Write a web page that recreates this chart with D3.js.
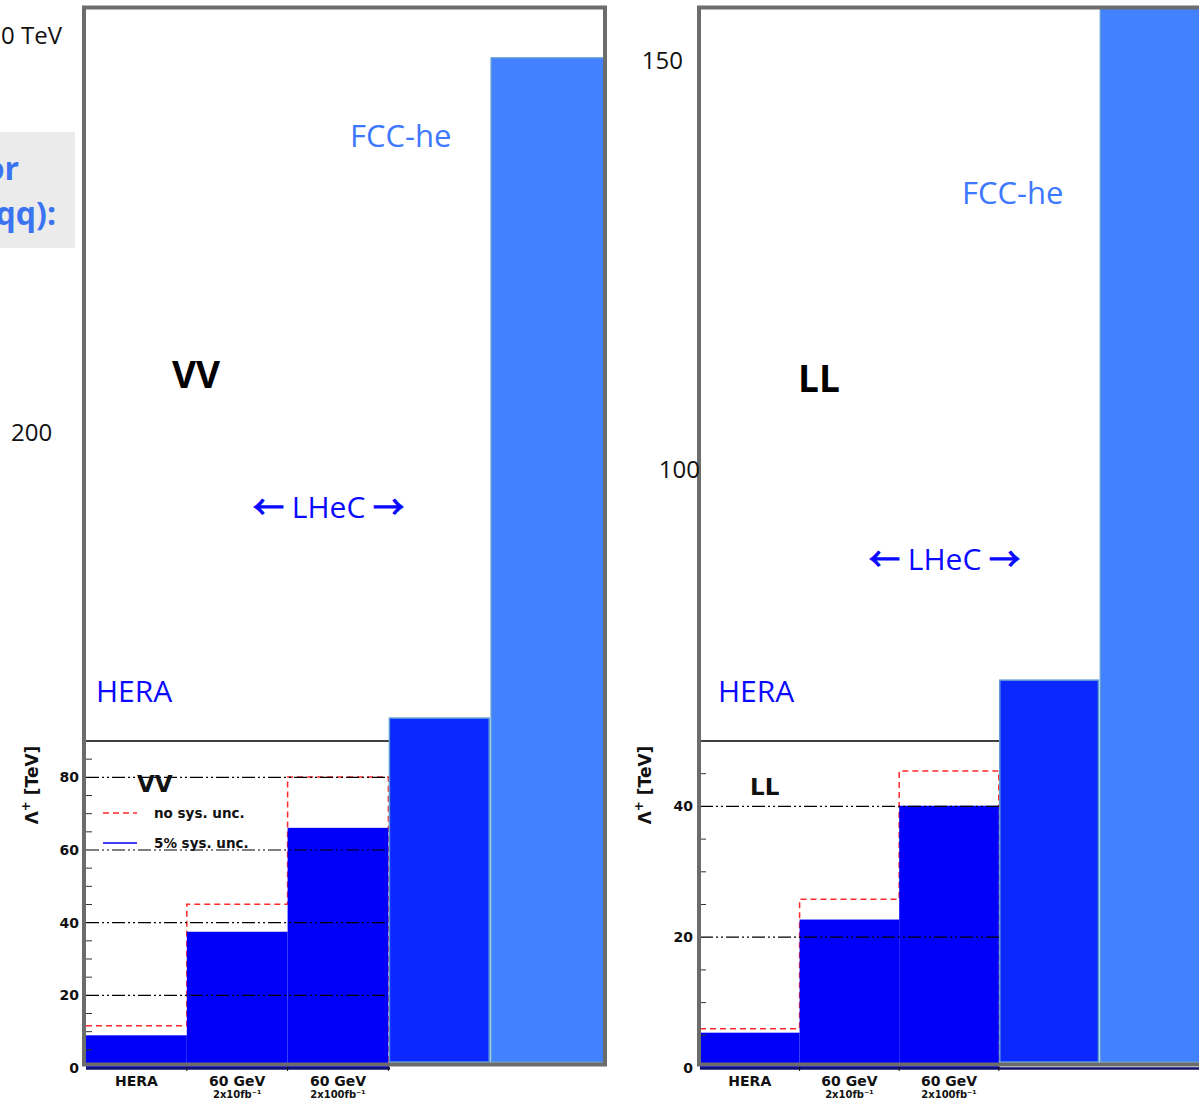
<!DOCTYPE html>
<html>
<head>
<meta charset="utf-8">
<script src="https://cdn.jsdelivr.net/npm/d3@7"></script>
<style>
  body { margin: 0; background: #fff; }
  svg { display: block; }
  .root { font-family: "DejaVu Sans", sans-serif; font-weight: bold; fill: #111; }
  .slide { font-family: "Open Sans", sans-serif; }
  .arrow { font-family: "Noto Sans CJK SC", "DejaVu Sans", sans-serif; stroke: #0a0aff; stroke-width: 1.2; }
</style>
</head>
<body>
<svg id="chart"></svg>
<script>
// ROOT histogram part (values in TeV)
var categories = ["HERA", "60 GeV", "60 GeV"];
var lumiLabels = ["", "2x10fb\u207B\u00B9", "2x100fb\u207B\u00B9"];
var vvSys = [9.0, 37.5, 66.1];
var vvNoSys = [11.6, 45.1, 80.1];
var llSys = [5.4, 22.7, 40.1];
var llNoSys = [6.0, 25.8, 45.4];
var vvTicks = [0, 20, 40, 60, 80];
var llTicks = [0, 20, 40];

// the big bars pasted over the plots (same scale, extended)
var extNames = ["LHeC", "FCC-he"];
var vvExt = [96.3, 278];
var llExt = [59.3, 170];

// hand placed slide labels
var leftSlideLabels = ["0 TeV", "200"];
var rightSlideLabels = ["150", "100"];

var W = 1199, H = 1101;
var svg = d3.select("#chart").attr("width", W).attr("height", H);

var panels = [
  {name: "VV", sys: vvSys, noSys: vvNoSys, ext: vvExt, ticks: vvTicks, ymax: 90,
   frame: {x: 84, y: 7.5, w: 521, h: 1057}, axisX: 86, xEnd: 590, axisEnd: 390, titleX: 38,
   big: [172, 388], fcc: [350, 147], lhec: [253, 518], hera: [96, 702], rootTitle: [137, 792], legend: true},
  {name: "LL", sys: llSys, noSys: llNoSys, ext: llExt, ticks: llTicks, ymax: 50,
   frame: {x: 699, y: 7.5, w: 620, h: 1057}, axisX: 700, xEnd: 1198, axisEnd: 1199, titleX: 651,
   big: [798, 392], fcc: [962, 204], lhec: [869, 570], hera: [718, 702], rootTitle: [750, 795], legend: false}
];

var defs = svg.append("defs");

panels.forEach(function(p, pi) {
  var y = d3.scaleLinear().domain([0, p.ymax]).range([1068, 741]);
  var x = d3.scaleBand().domain(d3.range(5)).range([p.axisX, p.xEnd]);
  var g = svg.append("g");

  defs.append("clipPath").attr("id", "clip" + pi)
    .append("rect")
    .attr("x", p.frame.x).attr("y", p.frame.y)
    .attr("width", p.frame.w).attr("height", p.frame.h);

  // red dashed histogram (no sys. unc.)
  var stepPts = p.noSys.map(function(v, i) { return [x(i), y(v)]; });
  stepPts.push([x(3), y(p.noSys[2])]);
  stepPts.push([x(3), y(0)]);
  g.append("path")
    .attr("d", d3.line().curve(d3.curveStepAfter)(stepPts))
    .attr("fill", "none")
    .attr("stroke", "#ff2a2a")
    .attr("stroke-width", 1.5)
    .attr("stroke-dasharray", "6,4");

  // blue filled histogram (5% sys. unc.)
  g.selectAll("rect.sys")
    .data(p.sys)
    .enter()
    .append("rect")
    .attr("class", "sys")
    .attr("x", function(d, i) { return x(i); })
    .attr("y", function(d) { return y(d); })
    .attr("width", x.bandwidth())
    .attr("height", function(d) { return y(0) - y(d); })
    .attr("fill", "#0000fa");

  // dash-dot grid
  g.selectAll("line.grid")
    .data(p.ticks.filter(function(t) { return t > 0; }))
    .enter()
    .append("line")
    .attr("x1", x(0)).attr("x2", x(3))
    .attr("y1", function(d) { return y(d); })
    .attr("y2", function(d) { return y(d); })
    .attr("stroke", "#000")
    .attr("stroke-width", 1.2)
    .attr("stroke-dasharray", "13,3,2,3,2,3");

  // top of ROOT frame
  g.append("line")
    .attr("x1", x(0)).attr("x2", x(3) + 2)
    .attr("y1", y(p.ymax)).attr("y2", y(p.ymax))
    .attr("stroke", "#000").attr("stroke-width", 1.3);

  // minor ticks
  g.selectAll("line.minor")
    .data(d3.range(5, p.ymax, 5).filter(function(t) { return t % 20 != 0; }))
    .enter()
    .append("line")
    .attr("x1", p.axisX).attr("x2", p.axisX + 6)
    .attr("y1", function(d) { return y(d); })
    .attr("y2", function(d) { return y(d); })
    .attr("stroke", "#333").attr("stroke-width", 1);

  // tick labels
  g.selectAll("text.tick")
    .data(p.ticks)
    .enter()
    .append("text")
    .attr("class", "root")
    .attr("x", p.axisX - 7)
    .attr("y", function(d) { return y(d); })
    .attr("dy", "0.36em")
    .attr("text-anchor", "end")
    .attr("font-size", 14)
    .text(function(d) { return d; });

  // x axis line + ticks
  g.append("line")
    .attr("x1", p.axisX).attr("x2", p.axisEnd)
    .attr("y1", 1068.5).attr("y2", 1068.5)
    .attr("stroke", "#10106a").attr("stroke-width", 2.5);
  g.selectAll("line.xt")
    .data(d3.range(1, 4))
    .enter()
    .append("line")
    .attr("x1", function(d) { return x(d); })
    .attr("x2", function(d) { return x(d); })
    .attr("y1", 1066).attr("y2", 1071)
    .attr("stroke", "#111");

  // category labels
  g.selectAll("text.cat")
    .data(categories)
    .enter()
    .append("text")
    .attr("class", "root")
    .attr("x", function(d, i) { return x(i) + x.bandwidth() / 2; })
    .attr("y", 1086)
    .attr("text-anchor", "middle")
    .attr("font-size", 14)
    .text(function(d) { return d; });
  g.selectAll("text.lumi")
    .data(lumiLabels)
    .enter()
    .append("text")
    .attr("class", "root")
    .attr("x", function(d, i) { return x(i) + x.bandwidth() / 2; })
    .attr("y", 1098)
    .attr("text-anchor", "middle")
    .attr("font-size", 10)
    .text(function(d) { return d; });

  // y axis title
  var yt = g.append("text")
    .attr("class", "root")
    .attr("transform", "translate(" + p.titleX + ",785) rotate(-90)")
    .attr("text-anchor", "middle")
    .attr("font-size", 17);
  yt.append("tspan").text("\u039B");
  yt.append("tspan").attr("dy", -8).attr("font-size", 12).text("+");
  yt.append("tspan").attr("dy", 8).text("  [TeV]");

  // ROOT plot title / legend
  g.append("text")
    .attr("class", "root")
    .attr("x", p.rootTitle[0]).attr("y", p.rootTitle[1])
    .attr("font-size", 23)
    .text(p.name);

  if (p.legend) {
    var legend = [
      {label: "no sys. unc.", color: "#ff2a2a", dash: "6,4", y: 813},
      {label: "5% sys. unc.", color: "#0000fa", dash: null, y: 843}
    ];
    legend.forEach(function(l) {
      g.append("line")
        .attr("x1", 103).attr("x2", 137)
        .attr("y1", l.y).attr("y2", l.y)
        .attr("stroke", l.color).attr("stroke-width", 1.5)
        .attr("stroke-dasharray", l.dash);
      g.append("text")
        .attr("class", "root")
        .attr("x", 154).attr("y", l.y + 5)
        .attr("font-size", 13.5)
        .attr("fill", "#222")
        .text(l.label);
    });
  }

  // big LHeC / FCC-he bars
  var ov = svg.append("g").attr("clip-path", "url(#clip" + pi + ")");
  ov.selectAll("rect.ext")
    .data(p.ext)
    .enter()
    .append("rect")
    .attr("x", function(d, i) { return x(3 + i) + 1 + i; })
    .attr("y", function(d) { return y(d); })
    .attr("width", function(d, i) { return i == 0 ? x.bandwidth() - 1 : x.bandwidth() * 1.4; })
    .attr("height", function(d) { return y(0) - y(d) - 6; })
    .attr("fill", function(d, i) { return i == 0 ? "#0a28ff" : "#4281ff"; })
    .attr("stroke", "#5b9bd5")
    .attr("stroke-width", 1.5);

  // slide frame
  svg.append("rect")
    .attr("x", p.frame.x).attr("y", p.frame.y)
    .attr("width", p.frame.w).attr("height", p.frame.h)
    .attr("fill", "none")
    .attr("stroke", "#6c6c6c")
    .attr("stroke-width", 4);

  // slide annotations
  var s = svg.append("g").attr("class", "slide");
  s.append("text").attr("x", p.fcc[0]).attr("y", p.fcc[1])
    .attr("font-size", 31).attr("fill", "#3d78ff").text(extNames[1]);
  s.append("text").attr("x", p.big[0]).attr("y", p.big[1])
    .attr("font-size", 37).attr("font-weight", "bold").attr("fill", "#000").text(p.name);
  var lh = s.append("text").attr("x", p.lhec[0]).attr("y", p.lhec[1])
    .attr("font-size", 30).attr("fill", "#0a0aff");
  lh.append("tspan").attr("class", "arrow").attr("font-size", 31).text("\u2190");
  lh.append("tspan").text(" " + extNames[0] + " ");
  lh.append("tspan").attr("class", "arrow").attr("font-size", 31).text("\u2192");
  s.append("text").attr("x", p.hera[0]).attr("y", p.hera[1])
    .attr("font-size", 30).attr("fill", "#0a0aff").text(categories[0]);
});

// slide scale labels
var s = svg.append("g").attr("class", "slide").attr("font-size", 24).attr("fill", "#111");
s.append("text").attr("x", 62).attr("y", 44).attr("text-anchor", "end").text(leftSlideLabels[0]);
s.append("text").attr("x", 11).attr("y", 441).text(leftSlideLabels[1]);
s.append("text").attr("x", 683).attr("y", 69).attr("text-anchor", "end").text(rightSlideLabels[0]);
s.append("text").attr("x", 700).attr("y", 478).attr("text-anchor", "end").text(rightSlideLabels[1]);

// side box, cut by the left edge as in the slide
svg.append("rect").attr("x", 0).attr("y", 132).attr("width", 75).attr("height", 116).attr("fill", "#ebebeb");
var box = svg.append("g").attr("class", "slide")
  .attr("font-size", 32).attr("font-weight", "bold").attr("fill", "#3a74f2")
  .attr("text-anchor", "end");
box.append("text").attr("x", 19).attr("y", 180).text("or");
box.append("text").attr("x", 56).attr("y", 225).text("qq):");
</script>
</body>
</html>
